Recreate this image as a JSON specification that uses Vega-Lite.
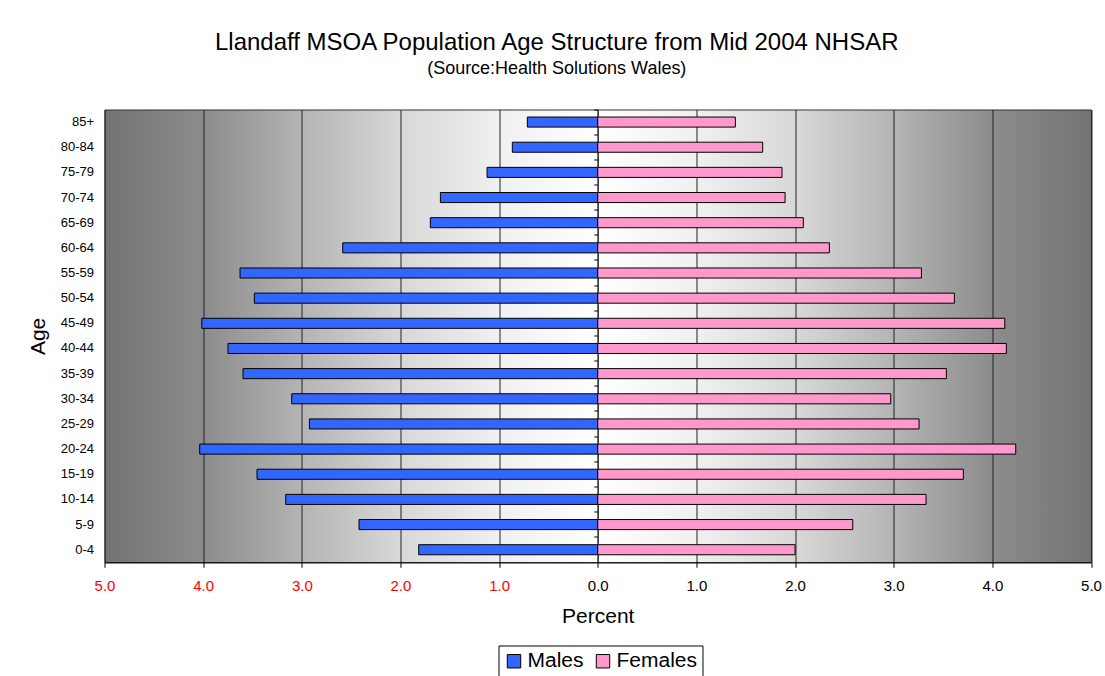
{
  "$schema": "https://vega.github.io/schema/vega-lite/v6.json",
  "width": 986.5,
  "height": 452.8,
  "autosize": {"type": "none"},
  "padding": {"left": 104.5, "top": 109.5, "right": 14, "bottom": 114},
  "background": "white",
  "config": {"font": "Liberation Sans"},
  "title": {
    "text": "Llandaff MSOA Population Age Structure from Mid 2004 NHSAR",
    "subtitle": "(Source:Health Solutions Wales)",
    "fontSize": 24,
    "fontWeight": "normal",
    "color": "black",
    "subtitleFontSize": 18,
    "subtitleColor": "black",
    "anchor": "middle",
    "dx": -41,
    "offset": 31,
    "subtitlePadding": 5
  },
  "view": {
    "fill": {
      "gradient": "linear",
      "x1": 0, "x2": 1, "y1": 0, "y2": 0,
      "stops": [
        {"offset": 0, "color": "#737373"},
        {"offset": 0.1, "color": "#8c8c8c"},
        {"offset": 0.2, "color": "#b4b4b4"},
        {"offset": 0.3, "color": "#d8d8d8"},
        {"offset": 0.4, "color": "#f0f0f0"},
        {"offset": 0.5, "color": "#ffffff"},
        {"offset": 0.6, "color": "#f0f0f0"},
        {"offset": 0.7, "color": "#d8d8d8"},
        {"offset": 0.8, "color": "#b4b4b4"},
        {"offset": 0.9, "color": "#8c8c8c"},
        {"offset": 1, "color": "#737373"}
      ]
    },
    "stroke": "#333333",
    "strokeWidth": 1
  },
  "data": {
    "values": [
      {"age": "85+", "sex": "Males", "pct": -0.714},
      {"age": "80-84", "sex": "Males", "pct": -0.866},
      {"age": "75-79", "sex": "Males", "pct": -1.122},
      {"age": "70-74", "sex": "Males", "pct": -1.595},
      {"age": "65-69", "sex": "Males", "pct": -1.697},
      {"age": "60-64", "sex": "Males", "pct": -2.585},
      {"age": "55-59", "sex": "Males", "pct": -3.626},
      {"age": "50-54", "sex": "Males", "pct": -3.481},
      {"age": "45-49", "sex": "Males", "pct": -4.014},
      {"age": "40-44", "sex": "Males", "pct": -3.748},
      {"age": "35-39", "sex": "Males", "pct": -3.596},
      {"age": "30-34", "sex": "Males", "pct": -3.102},
      {"age": "25-29", "sex": "Males", "pct": -2.923},
      {"age": "20-24", "sex": "Males", "pct": -4.035},
      {"age": "15-19", "sex": "Males", "pct": -3.454},
      {"age": "10-14", "sex": "Males", "pct": -3.163},
      {"age": "5-9", "sex": "Males", "pct": -2.42},
      {"age": "0-4", "sex": "Males", "pct": -1.815},
      {"age": "85+", "sex": "Females", "pct": 1.395},
      {"age": "80-84", "sex": "Females", "pct": 1.672},
      {"age": "75-79", "sex": "Females", "pct": 1.868},
      {"age": "70-74", "sex": "Females", "pct": 1.899},
      {"age": "65-69", "sex": "Females", "pct": 2.084},
      {"age": "60-64", "sex": "Females", "pct": 2.348},
      {"age": "55-59", "sex": "Females", "pct": 3.281},
      {"age": "50-54", "sex": "Females", "pct": 3.615},
      {"age": "45-49", "sex": "Females", "pct": 4.126},
      {"age": "40-44", "sex": "Females", "pct": 4.142},
      {"age": "35-39", "sex": "Females", "pct": 3.534},
      {"age": "30-34", "sex": "Females", "pct": 2.97},
      {"age": "25-29", "sex": "Females", "pct": 3.257},
      {"age": "20-24", "sex": "Females", "pct": 4.237},
      {"age": "15-19", "sex": "Females", "pct": 3.706},
      {"age": "10-14", "sex": "Females", "pct": 3.328},
      {"age": "5-9", "sex": "Females", "pct": 2.585},
      {"age": "0-4", "sex": "Females", "pct": 2.0}
    ]
  },
  "layer": [
    {
      "transform": [{"filter": "datum.sex == 'Males'"}],
      "mark": {"type": "bar", "stroke": "black", "strokeWidth": 1},
      "encoding": {
        "y": {
          "field": "age", "type": "nominal",
          "sort": ["85+","80-84","75-79","70-74","65-69","60-64","55-59","50-54","45-49","40-44","35-39","30-34","25-29","20-24","15-19","10-14","5-9","0-4"],
          "scale": {"paddingInner": 0.6, "paddingOuter": 0.3},
          "axis": {
            "title": "Age", "titleFontSize": 21, "titleFontWeight": "normal", "titleColor": "black", "titlePadding": 12,
            "labelFontSize": 13, "labelColor": "black", "labelPadding": 11,
            "ticks": false, "domain": false, "grid": false
          }
        },
        "x": {
          "field": "pct", "type": "quantitative",
          "scale": {"domain": [-5, 5], "nice": false},
          "axis": {
            "title": "Percent", "titleFontSize": 21, "titleFontWeight": "normal", "titleColor": "black", "titlePadding": 12,
            "values": [-5,-4,-3,-2,-1,0,1,2,3,4,5],
            "labelExpr": "format(abs(datum.value), '.1f')",
            "labelFontSize": 15,
            "labelColor": {"condition": {"test": "datum.value < 0", "value": "#ff0000"}, "value": "black"},
            "labelPadding": 11, "labelFlush": false,
            "grid": true, "gridColor": "#222222", "gridWidth": 1, "gridOpacity": 1,
            "domain": true, "domainColor": "black", "domainWidth": 1,
            "ticks": true, "tickColor": "black", "tickSize": 5
          }
        },
        "color": {
          "field": "sex", "type": "nominal",
          "scale": {"domain": ["Males", "Females"], "range": ["#3366ff", "#ff99cc"]},
          "legend": {
            "orient": "none", "legendX": 394, "legendY": 536, "direction": "horizontal",
            "title": null, "strokeColor": "black", "fillColor": "white", "padding": 5,
            "labelFontSize": 21, "labelColor": "black", "labelOffset": 3,
            "symbolType": "square", "symbolSize": 180, "symbolStrokeColor": "black", "symbolStrokeWidth": 1, "symbolOpacity": 1,
            "columnPadding": 8
          }
        }
      }
    },
    {
      "transform": [{"filter": "datum.sex == 'Females'"}],
      "mark": {"type": "bar", "stroke": "black", "strokeWidth": 1},
      "encoding": {
        "y": {
          "field": "age", "type": "nominal",
          "sort": ["85+","80-84","75-79","70-74","65-69","60-64","55-59","50-54","45-49","40-44","35-39","30-34","25-29","20-24","15-19","10-14","5-9","0-4"],
          "axis": {
            "title": null, "labels": false, "grid": false,
            "offset": -493.25, "orient": "left",
            "domain": true, "domainColor": "#222222", "domainWidth": 1,
            "ticks": true, "tickColor": "black", "tickSize": 4, "bandPosition": -0.75
          }
        },
        "x": {"field": "pct", "type": "quantitative"},
        "color": {"field": "sex", "type": "nominal"}
      }
    }
  ],
  "resolve": {"axis": {"y": "independent"}}
}
